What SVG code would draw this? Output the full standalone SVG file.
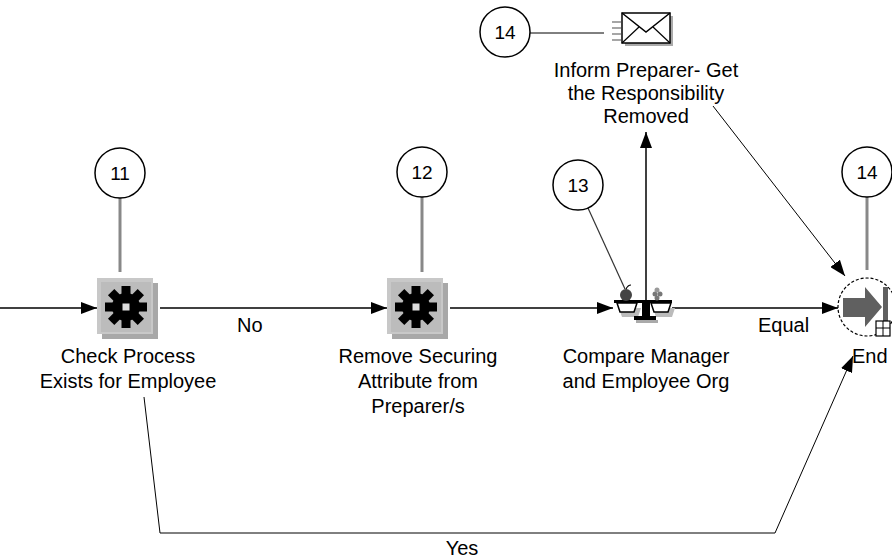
<svg xmlns="http://www.w3.org/2000/svg" width="892" height="559" viewBox="0 0 892 559">
<style>
text{font-family:"Liberation Sans",Arial,sans-serif;font-size:20px;fill:#000}
.lbl{text-anchor:middle}
.num{text-anchor:middle;font-size:19px}
.bubble{fill:#fff;stroke:#000;stroke-width:1.5}
.stem{stroke:#888;stroke-width:3;fill:none}
.flow{stroke:#000;stroke-width:1.5;fill:none}
.thin{stroke:#000;stroke-width:1;fill:none}
</style>
<defs>
<marker id="ah" viewBox="0 0 16 12" refX="16" refY="6" markerWidth="16" markerHeight="12" orient="auto" markerUnits="userSpaceOnUse">
<path d="M0,0 L16,6 L0,12 z" fill="#000"/>
</marker>
<g id="gear">
<circle r="14" fill="#000"/>
<rect x="-4.5" y="-21" width="9" height="42" fill="#000"/>
<rect x="-4.5" y="-21" width="9" height="42" fill="#000" transform="rotate(45)"/>
<rect x="-4.5" y="-21" width="9" height="42" fill="#000" transform="rotate(90)"/>
<rect x="-4.5" y="-21" width="9" height="42" fill="#000" transform="rotate(135)"/>
<rect x="-3.5" y="-3.5" width="7" height="7" fill="#ddd"/>
</g>
<g id="fbox">
<rect x="5" y="5" width="56" height="56" fill="#a8a8a8"/>
<rect x="0" y="0" width="56" height="56" fill="#c8c8c8"/>
<rect x="4" y="4" width="50" height="50" fill="#bcbcbc"/>
</g>
</defs>

<g id="connectors">
<line class="flow" x1="0" y1="308" x2="97" y2="308" marker-end="url(#ah)"/>
<line class="flow" x1="160" y1="308" x2="387" y2="308" marker-end="url(#ah)"/>
<line class="flow" x1="450" y1="308" x2="613" y2="308" marker-end="url(#ah)"/>
<line class="flow" x1="672" y1="308" x2="838" y2="308" marker-end="url(#ah)"/>
<line class="flow" x1="646" y1="300" x2="646" y2="132" marker-end="url(#ah)"/>
<line class="thin" x1="713" y1="106" x2="845" y2="276" marker-end="url(#ah)"/>
<polyline class="thin" points="144,397 160,533 775,533 853,356" marker-end="url(#ah)"/>
<line class="stem" x1="120" y1="198" x2="120" y2="272"/>
<line class="stem" x1="422" y1="197" x2="422" y2="272"/>
<line class="stem" x1="867" y1="197" x2="867" y2="270"/>
<line stroke="#333" stroke-width="1.2" x1="588" y1="208" x2="625" y2="289"/>
<line class="thin" x1="530" y1="33" x2="604" y2="33"/>
<text x="237" y="332">No</text>
<text x="758" y="332">Equal</text>
<text class="lbl" x="462" y="555">Yes</text>
</g>

<g id="n11">
<circle class="bubble" cx="120" cy="173" r="25"/>
<text class="num" x="120" y="180">11</text>
</g>
<g id="n12">
<circle class="bubble" cx="422" cy="172" r="25"/>
<text class="num" x="422" y="179">12</text>
</g>
<g id="n13">
<circle class="bubble" cx="578" cy="185" r="25"/>
<text class="num" x="578" y="192">13</text>
</g>
<g id="n14a">
<circle class="bubble" cx="505" cy="32" r="25"/>
<text class="num" x="505" y="39">14</text>
</g>
<g id="n14b">
<circle class="bubble" cx="867" cy="172" r="25"/>
<text class="num" x="867" y="179">14</text>
</g>

<g id="checkProcess">
<use href="#fbox" x="97" y="278"/>
<use href="#gear" x="126" y="307"/>
<text class="lbl" x="128" y="363">Check Process</text>
<text class="lbl" x="128" y="388">Exists for Employee</text>
</g>

<g id="removeAttr">
<use href="#fbox" x="387" y="278"/>
<use href="#gear" x="416" y="307"/>
<text class="lbl" x="418" y="363">Remove Securing</text>
<text class="lbl" x="418" y="388">Attribute from</text>
<text class="lbl" x="418" y="413">Preparer/s</text>
</g>

<g id="compare">
<path d="M617,305 h22 l-3,9 h-16 z M651,305 h22 l-3,9 h-16 z" fill="#bbb" transform="translate(2,3)"/>
<rect x="614" y="300" width="58" height="3" fill="#000"/>
<path d="M617,303 h20 l-3,9 h-14 z M651,303 h20 l-3,9 h-14 z" fill="#fff" stroke="#000" stroke-width="1.5"/>
<rect x="642" y="303" width="8" height="14" fill="#000"/>
<rect x="634" y="316" width="22" height="4" fill="#000"/>
<rect x="636" y="320" width="22" height="3" fill="#aaa"/>
<circle cx="626" cy="295" r="6" fill="#444"/>
<path d="M626,289 q2,-4 5,-4" stroke="#000" stroke-width="1.2" fill="none"/>
<circle cx="655" cy="294" r="2.5" fill="#777"/>
<circle cx="660" cy="294" r="2.5" fill="#777"/>
<circle cx="657" cy="290" r="2.5" fill="#999"/>
<circle cx="657" cy="298" r="2.5" fill="#777"/>
<text class="lbl" x="646" y="363">Compare Manager</text>
<text class="lbl" x="646" y="388">and Employee Org</text>
</g>

<g id="inform">
<rect x="625" y="16" width="48" height="30" fill="#aaa"/>
<rect x="622" y="13" width="48" height="30" fill="#fff" stroke="#000" stroke-width="1.5"/>
<polyline points="622,13 646,32 670,13" fill="none" stroke="#000" stroke-width="1.5"/>
<line x1="622" y1="43" x2="639" y2="27" stroke="#000" stroke-width="1.2"/>
<line x1="670" y1="43" x2="653" y2="27" stroke="#000" stroke-width="1.2"/>
<g stroke="#888" stroke-width="1.5">
<line x1="612" y1="22" x2="621" y2="22"/>
<line x1="612" y1="28" x2="621" y2="28"/>
<line x1="612" y1="34" x2="621" y2="34"/>
<line x1="612" y1="40" x2="621" y2="40"/>
</g>
<text class="lbl" x="646" y="77">Inform Preparer- Get</text>
<text class="lbl" x="646" y="100">the Responsibility</text>
<text class="lbl" x="646" y="123">Removed</text>
</g>

<g id="end">
<circle cx="867" cy="307" r="29" fill="#fff" stroke="#000" stroke-width="1.2" stroke-dasharray="3 2"/>
<polygon points="843,298 865,298 865,287 882,307 865,327 865,317 843,317" fill="#606060"/>
<rect x="883" y="287" width="5" height="40" fill="#606060"/>
<rect x="876" y="321" width="14" height="15" fill="#fff" stroke="#000" stroke-width="1.2"/>
<line x1="876" y1="328" x2="890" y2="328" stroke="#000"/>
<line x1="883" y1="321" x2="883" y2="336" stroke="#000"/>
<text x="852" y="363">End</text>
</g>
</svg>
